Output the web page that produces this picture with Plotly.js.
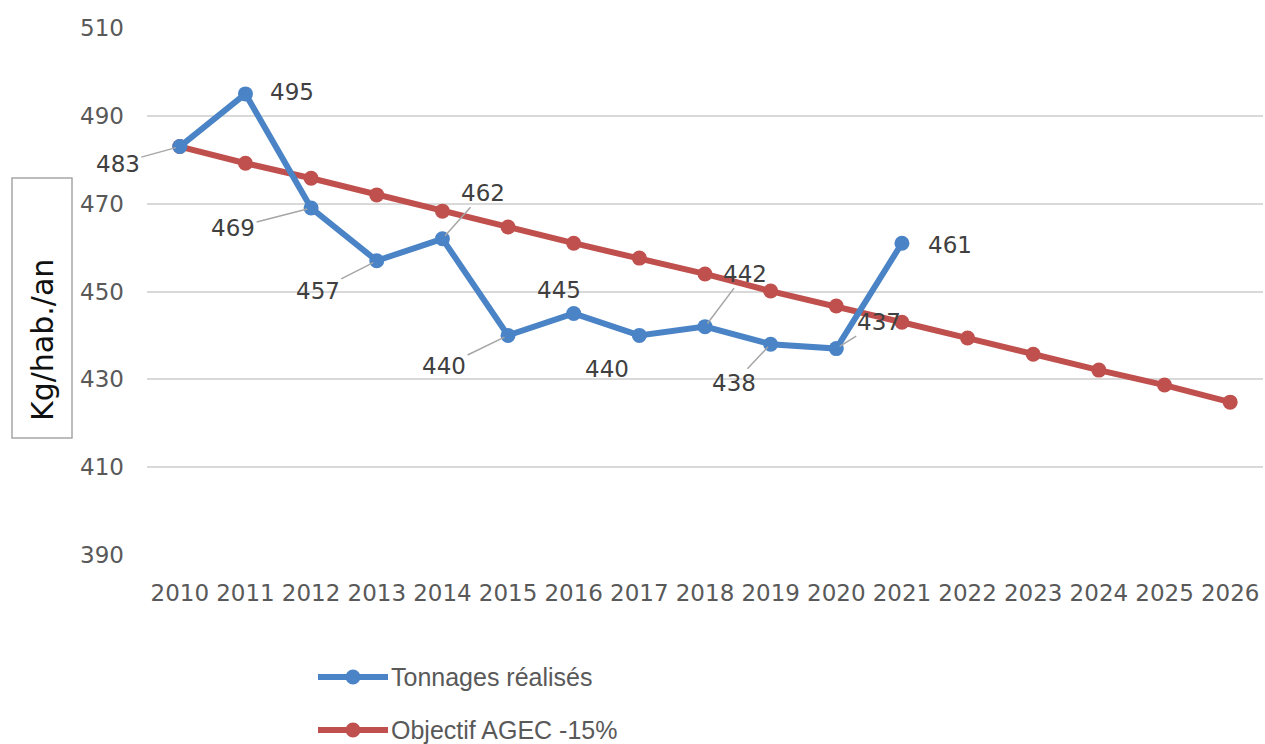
<!DOCTYPE html>
<html>
<head>
<meta charset="utf-8">
<script src="https://cdn.plot.ly/plotly-3.0.1.min.js"></script>
<style>html,body{margin:0;padding:0;background:#fff;}#chart{width:1265px;height:744px;}</style>
</head>
<body>
<div id="chart"></div>
<script>
const years = ['2010','2011','2012','2013','2014','2015','2016','2017','2018','2019','2020','2021','2022','2023','2024','2025','2026'];
const realYears = ['2010','2011','2012','2013','2014','2015','2016','2017','2018','2019','2020','2021'];
const tonnages = [483, 495, 469, 457, 462, 440, 445, 440, 442, 438, 437, 461];
const objectif = [483, 479.2, 475.8, 472, 468.3, 464.7, 461, 457.6, 454, 450.1, 446.7, 443, 439.4, 435.7, 432.1, 428.7, 424.8];
const yTicks = [390, 410, 430, 450, 470, 490, 510];
const seriesNames = ['Tonnages réalisés', 'Objectif AGEC -15%'];
const axisTitle = 'Kg/hab./an';

// label placement offsets (pixels) per realised point: [dx, dy, leader]
const labelPos = [
  [-62, 17, true], [47, 2, false], [-78, 20, true], [-59, 30, true],
  [41, -46, true], [-64, 31, true], [-15, 23, false], [-32, -34, false],
  [40, -53, true], [-37, 39, true], [43, -27, true], [48, -2, false]
];

const blue = '#4A84C6';
const red = '#C0504D';

// plot box in pixels, for placing decorations in paper coordinates
const PL = 147, PR = 1263, PT = 28, PB = 555;
const px = v => (v - PL) / (PR - PL);
const py = v => (PB - v) / (PB - PT);

const traces = [
  {
    x: years, y: objectif, type: 'scatter', mode: 'lines+markers',
    name: seriesNames[1], showlegend: false,
    line: {color: red, width: 6}, marker: {color: red, size: 15},
    hoverinfo: 'x+y'
  },
  {
    x: realYears, y: tonnages, type: 'scatter', mode: 'lines+markers',
    name: seriesNames[0], showlegend: false,
    line: {color: blue, width: 6}, marker: {color: blue, size: 15},
    hoverinfo: 'x+y'
  }
];

const annFont = {family: 'DejaVu Sans', size: 23, color: '#404040'};
const annotations = tonnages.map((v, i) => {
  const p = labelPos[i];
  const xi = years.indexOf(realYears[i]);
  if (p[2]) {
    return {
      x: xi, y: v, xref: 'x', yref: 'y', text: String(v),
      showarrow: true, arrowhead: 0, arrowwidth: 1.5, arrowcolor: '#a6a6a6',
      ax: p[0], ay: p[1], standoff: 4, font: annFont
    };
  }
  return {
    x: xi, y: v, xref: 'x', yref: 'y', text: String(v),
    showarrow: false, xshift: p[0], yshift: p[1], font: annFont
  };
});

// y-axis title (boxed)
annotations.push({
  xref: 'paper', yref: 'paper', x: px(42), y: py(340),
  xanchor: 'center', yanchor: 'middle',
  text: axisTitle, textangle: -90, showarrow: false,
  font: {family: 'DejaVu Sans', size: 30, color: '#111'}
});

const shapes = [
  {type: 'rect', xref: 'paper', yref: 'paper', x0: px(12), x1: px(72), y0: py(438), y1: py(178),
   line: {color: '#a6a6a6', width: 1.5}, fillcolor: 'rgba(0,0,0,0)', layer: 'above'}
];

// custom legend
const legendRows = [[seriesNames[0], blue, 677], [seriesNames[1], red, 730]];
legendRows.forEach(([name, col, yy]) => {
  shapes.push({type: 'line', xref: 'paper', yref: 'paper', x0: px(318), x1: px(388), y0: py(yy), y1: py(yy),
    line: {color: col, width: 6}});
  shapes.push({type: 'circle', xref: 'paper', yref: 'paper', xsizemode: 'pixel', ysizemode: 'pixel',
    xanchor: px(353), yanchor: py(yy), x0: -7.5, x1: 7.5, y0: -7.5, y1: 7.5,
    fillcolor: col, line: {color: col, width: 0}});
  annotations.push({xref: 'paper', yref: 'paper', x: px(389), y: py(yy), xanchor: 'left', yanchor: 'middle',
    text: name, showarrow: false, font: {family: 'Liberation Sans', size: 25, color: '#595959'}});
});

const layout = {
  width: 1265, height: 744,
  margin: {l: PL, r: 1265 - PR, t: PT, b: 744 - PB},
  paper_bgcolor: '#fff', plot_bgcolor: '#fff',
  showlegend: false,
  xaxis: {
    type: 'category', categoryorder: 'array', categoryarray: years,
    range: [-0.5, 16.5], showgrid: false, zeroline: false, showline: false,
    ticks: '', ticklabelstandoff: 22,
    tickfont: {family: 'DejaVu Sans', size: 23, color: '#595959'}
  },
  yaxis: {
    range: [390, 510], tickvals: yTicks, ticktext: yTicks.map(String),
    showgrid: true, gridcolor: '#d9d9d9', gridwidth: 2, zeroline: false,
    showline: false, ticks: '', ticklabelstandoff: 22,
    tickfont: {family: 'DejaVu Sans', size: 23, color: '#595959'}
  },
  annotations: annotations,
  shapes: shapes
};

Plotly.newPlot('chart', traces, layout, {displayModeBar: false, staticPlot: true});
</script>
</body>
</html>
